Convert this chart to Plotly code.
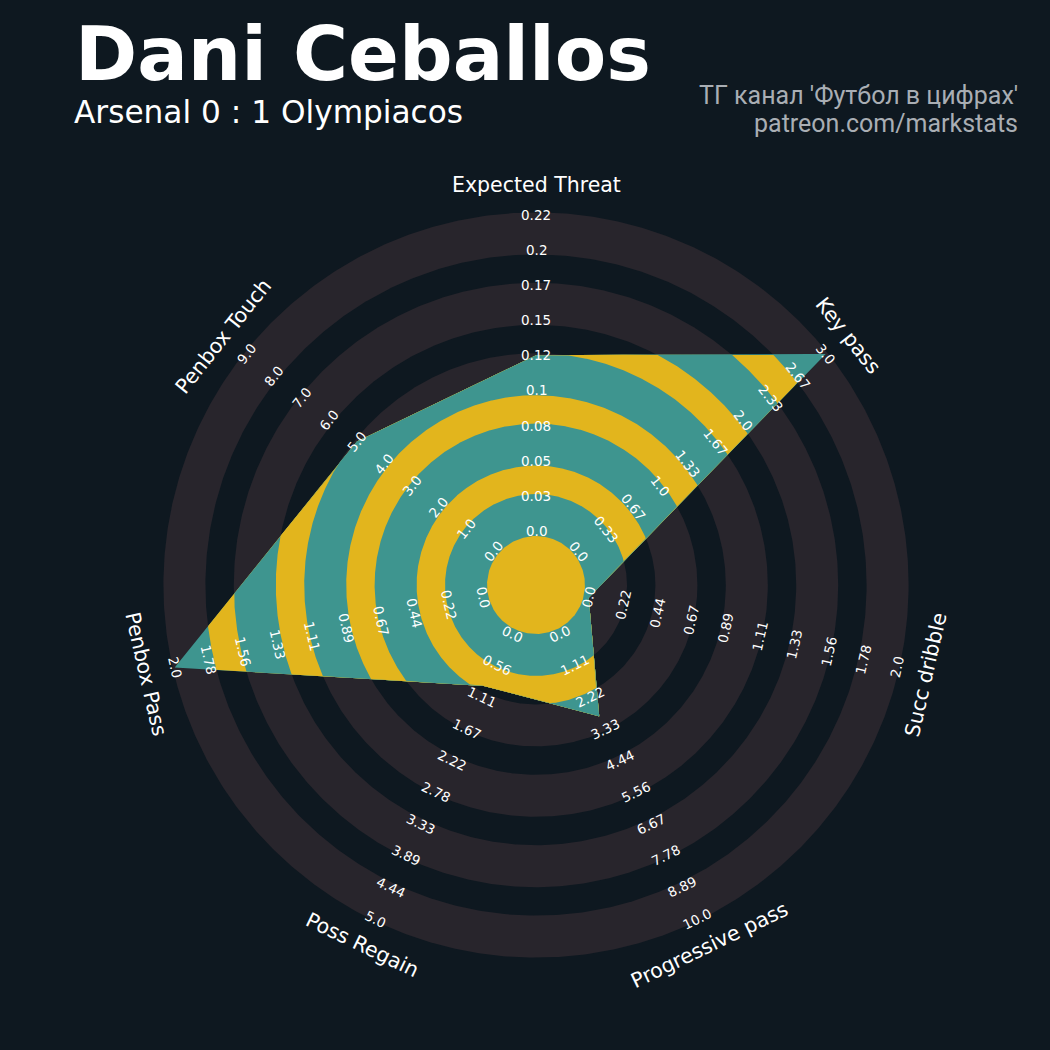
import numpy as np
import plotly.graph_objects as go

# ---------------- data ----------------
params = ["Expected Threat", "Key pass", "Succ dribble", "Progressive pass",
          "Poss Regain", "Penbox Pass", "Penbox Touch"]
values = [0.125, 3.0, 0.0, 2.9, 0.92, 2.0, 5.0]
low = [0, 0, 0, 0, 0, 0, 0]
high = [0.225, 3.0, 2.0, 10.0, 5.0, 2.0, 9.0]

labels_xt = ["0.0", "0.03", "0.05", "0.08", "0.1", "0.12", "0.15", "0.17", "0.2", "0.22"]
labels_keypass = ["0.0", "0.33", "0.67", "1.0", "1.33", "1.67", "2.0", "2.33", "2.67", "3.0"]
labels_dribble = ["0.0", "0.22", "0.44", "0.67", "0.89", "1.11", "1.33", "1.56", "1.78", "2.0"]
labels_progpass = ["0.0", "1.11", "2.22", "3.33", "4.44", "5.56", "6.67", "7.78", "8.89", "10.0"]
labels_regain = ["0.0", "0.56", "1.11", "1.67", "2.22", "2.78", "3.33", "3.89", "4.44", "5.0"]
labels_penpass = ["0.0", "0.22", "0.44", "0.67", "0.89", "1.11", "1.33", "1.56", "1.78", "2.0"]
labels_pentouch = ["0.0", "1.0", "2.0", "3.0", "4.0", "5.0", "6.0", "7.0", "8.0", "9.0"]
range_labels = [labels_xt, labels_keypass, labels_dribble, labels_progpass,
                labels_regain, labels_penpass, labels_pentouch]

title = "Dani Ceballos"
subtitle = "Arsenal 0 : 1 Olympiacos"
credit1 = "ТГ канал 'Футбол в цифрах'"
credit2 = "patreon.com/markstats"

# ---------------- style / geometry ----------------
BG = "#0e1820"
RING = "#28252c"
TEAL = "#3e958f"
YELLOW = "#e2b51d"
WHITE = "#ffffff"
GREY_TXT = "#a9aeb4"

R0, R1 = 54.0, 370.5          # radius of min / max value
R_PARAM = 400.0               # radius of parameter names
# ring boundaries from outside in: ring, bg, ring, bg, ...
ring_edges = [372.6, 330.6, 302.2, 260.2, 231.8, 189.8, 161.4, 119.4, 91.0, 49.0]

n = len(params)
angles = np.deg2rad(90 - np.arange(n) * 360.0 / n)

vals = np.array(values, float)
lo = np.array(low, float)
hi = np.array(high, float)
rv = R0 + (vals - lo) / (hi - lo) * (R1 - R0)

# polygon radius as function of angle (exact along straight edges)
ts_all, rs_all = [], []
m = 260
for i in range(n):
    j = (i + 1) % n
    a = angles[i]
    b = a - 2 * np.pi / n
    ra, rb = rv[i], rv[j]
    t = np.linspace(a, b, m, endpoint=False)
    r = ra * rb * np.sin(b - a) / (ra * np.sin(t - a) + rb * np.sin(b - t))
    ts_all.append(t)
    rs_all.append(r)
ts = np.concatenate(ts_all + [np.array([angles[0]])])
rs = np.concatenate(rs_all + [np.array([rv[0]])])

fig = go.Figure()

circ_t = np.linspace(0, 2 * np.pi, 721)
for k, rad in enumerate(ring_edges):
    col = RING if k % 2 == 0 else BG
    fig.add_trace(go.Scatter(x=rad * np.cos(circ_t), y=rad * np.sin(circ_t),
                             mode="lines", fill="toself", fillcolor=col,
                             line=dict(width=0, color=col), hoverinfo="skip",
                             showlegend=False))

for k, rad in enumerate(ring_edges):
    col = TEAL if k % 2 == 0 else YELLOW
    rr = np.minimum(rs, rad)
    fig.add_trace(go.Scatter(x=rr * np.cos(ts), y=rr * np.sin(ts),
                             mode="lines", fill="toself", fillcolor=col,
                             line=dict(width=0, color=col), hoverinfo="skip",
                             showlegend=False))


def mpl_rotation(theta):
    rot = np.rad2deg(theta) - 90
    rot = (rot + 180) % 360 - 180
    if rot < -90:
        rot += 180
    elif rot > 90:
        rot -= 180
    return rot


annotations = []
for i in range(n):
    th = angles[i]
    rot = mpl_rotation(th)
    labs = range_labels[i]
    for k, lab in enumerate(labs):
        rk = R0 + k * (R1 - R0) / (len(labs) - 1)
        annotations.append(dict(x=rk * np.cos(th), y=rk * np.sin(th), xref="x", yref="y",
                                text=lab, showarrow=False, textangle=-rot,
                                xanchor="center", yanchor="middle",
                                font=dict(family="DejaVu Sans", size=13.5, color=WHITE)))
    annotations.append(dict(x=R_PARAM * np.cos(th), y=R_PARAM * np.sin(th), xref="x", yref="y",
                            text=params[i], showarrow=False, textangle=-rot,
                            xanchor="center", yanchor="middle",
                            font=dict(family="DejaVu Sans", size=20.5, color=WHITE)))

W = H = 1050.0
annotations += [
    dict(x=73 / W, y=1 - 53.5 / H, xref="paper", yref="paper", text=title, showarrow=False,
         xanchor="left", yanchor="middle",
         font=dict(family="DejaVu Sans", size=75, color=WHITE, weight="bold")),
    dict(x=72 / W, y=1 - 112 / H, xref="paper", yref="paper", text=subtitle, showarrow=False,
         xanchor="left", yanchor="middle",
         font=dict(family="DejaVu Sans", size=31.2, color=WHITE)),
    dict(x=1020 / W, y=1 - 96 / H, xref="paper", yref="paper", text=credit1, showarrow=False,
         xanchor="right", yanchor="middle",
         font=dict(family="Roboto", size=25, color=GREY_TXT)),
    dict(x=1020 / W, y=1 - 123.5 / H, xref="paper", yref="paper", text=credit2, showarrow=False,
         xanchor="right", yanchor="middle",
         font=dict(family="Roboto", size=25, color=GREY_TXT)),
]

fig.update_layout(
    width=1050, height=1050,
    margin=dict(l=0, r=0, t=0, b=0),
    paper_bgcolor=BG, plot_bgcolor=BG,
    xaxis=dict(range=[-536, 514], visible=False, showgrid=False, zeroline=False, fixedrange=True),
    yaxis=dict(range=[-465, 585], visible=False, showgrid=False, zeroline=False, fixedrange=True),
    annotations=annotations,
    showlegend=False,
)

fig.write_html(
    "out.html",
    config={"displayModeBar": False},
    post_script=("document.body.style.margin='0';document.body.style.padding='0';"
                 "document.body.style.overflow='hidden';"
                 "document.body.style.background='" + BG + "';"),
)
